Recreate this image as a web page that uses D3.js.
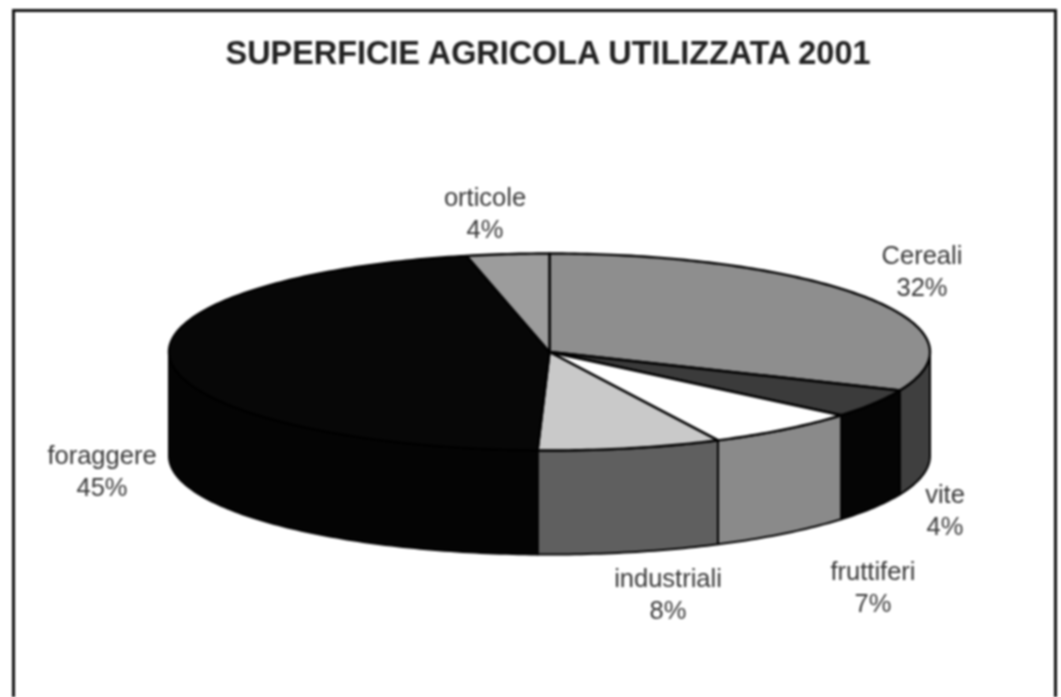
<!DOCTYPE html>
<html><head><meta charset="utf-8">
<script src="https://cdn.jsdelivr.net/npm/d3@7"></script>
<style>html,body{margin:0;padding:0;background:#fff}svg{display:block;filter:blur(0.8px)}text{font-family:"Liberation Sans",Arial,sans-serif}</style>
</head><body><svg id="c" width="1061" height="697"></svg>
<script>
const titleText = "SUPERFICIE AGRICOLA UTILIZZATA 2001";
const categories = ["Cereali","vite","fruttiferi","industriali","foraggere","orticole"];
const percentLabels = ["32%","4%","7%","8%","45%","4%"];
const drawnShares = [31.4,4.7,6.6,7.8,46,3.5];
const topColors = ["#8e8e8e","#3b3b3b","#ffffff","#c9c9c9","#070707","#9c9c9c"];
const wallColors = ["#3f3f3f","#050505","#8a8a8a","#5f5f5f","#040404","#040404"];
const labelX = [922,945,873,668,102,485];
const labelY = [264,503,580,587,464,206];

const svg = d3.select("#c");
const cx = 549.5, cy = 352, rx = 380.5, ry = 98.5, depth = 104;
const sx = d3.scaleLinear().domain([-1,1]).range([cx-rx,cx+rx]);
const sy = d3.scaleLinear().domain([-1,1]).range([cy-ry,cy+ry]);
const arcs = d3.pie().sort(null).value(d=>d)(drawnShares);
const line = d3.line();
const pt = (a,dz=0)=>[sx(Math.sin(a)),sy(-Math.cos(a))+dz];
const sample = (a0,a1,dz=0)=>{const n=Math.max(2,Math.ceil((a1-a0)*60));return d3.range(n+1).map(i=>pt(a0+(a1-a0)*i/n,dz));};

svg.append("rect").attr("x",13.5).attr("y",10.5).attr("width",1042).attr("height",720)
  .attr("fill","#fff").attr("stroke","#111").attr("stroke-width",3);

// walls: only the front half (angles between 90 and 270 degrees)
const H = Math.PI/2;
arcs.forEach((d,i)=>{
  const a0=Math.max(d.startAngle,H), a1=Math.min(d.endAngle,3*H);
  if(a1<=a0) return;
  const pts = sample(a0,a1).concat(sample(a0,a1,depth).reverse());
  svg.append("path").attr("d",line(pts)+"Z").attr("fill",wallColors[i]).attr("stroke","#000").attr("stroke-width",2).attr("stroke-linejoin","round");
});
// top slices
arcs.forEach((d,i)=>{
  const pts=[[sx(0),sy(0)]].concat(sample(d.startAngle,d.endAngle));
  svg.append("path").attr("d",line(pts)+"Z").attr("fill",topColors[i]).attr("stroke","#000").attr("stroke-width",2.4).attr("stroke-linejoin","round");
});

svg.append("text").attr("x",548).attr("y",64).attr("text-anchor","middle")
  .attr("font-size",32.4).attr("font-weight","bold").attr("fill","#222").text(titleText);
categories.forEach((c,i)=>{
  const t=svg.append("text").attr("text-anchor","middle").attr("font-size",25.5).attr("fill","#383838");
  t.append("tspan").attr("x",labelX[i]).attr("y",labelY[i]).text(c);
  t.append("tspan").attr("x",labelX[i]).attr("y",labelY[i]+32).text(percentLabels[i]);
});
</script></body></html>
